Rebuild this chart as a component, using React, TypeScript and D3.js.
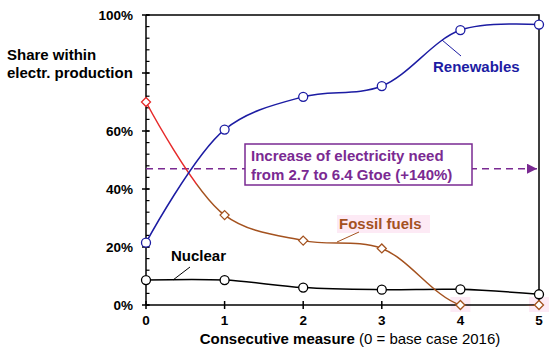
import React, { useEffect, useRef } from 'react'
import * as d3 from 'd3'

const measures = [0, 1, 2, 3, 4, 5]
const renewables = [21.5, 60.5, 71.8, 75.5, 94.8, 96.7]
const fossil = [70, 31, 22.2, 19.5, 0, 0]
const nuclear = [8.6, 8.6, 6, 5.3, 5.4, 3.7]
const yTicks = [0, 20, 40, 60, 80, 100]
const yLabels = ['0%', '20%', '40%', '60%', '', '100%'] // 80% hidden behind the axis title
const needLevel = 47

const W = 550
const H = 355
const m = { left: 146, right: 11, top: 15, bottom: 50 }

const App = () => {
  const ref = useRef<SVGSVGElement>(null)

  useEffect(() => {
    const svg = d3.select(ref.current)
    svg.selectAll('*').remove()

    const x = d3.scaleLinear().domain([0, 5]).range([m.left, W - m.right])
    const y = d3.scaleLinear().domain([0, 100]).range([H - m.bottom, m.top])
    const font = 'Liberation Sans, Arial, sans-serif'

    const blue = '#1c1ca3'
    const red = '#e62a2a'
    const brown = '#a4521f'
    const purple = '#7a2a92'

    const defs = svg.append('defs')
    const grad = defs.append('linearGradient')
      .attr('id', 'fossilGrad')
      .attr('gradientUnits', 'userSpaceOnUse')
      .attr('x1', x(0)).attr('x2', x(5)).attr('y1', 0).attr('y2', 0)
    grad.append('stop').attr('offset', '13%').attr('stop-color', red)
    grad.append('stop').attr('offset', '13%').attr('stop-color', brown)

    defs.append('clipPath').attr('id', 'plotClip')
      .append('rect').attr('x', 0).attr('y', 0).attr('width', W).attr('height', y(0) + 0.8)

    defs.append('marker')
      .attr('id', 'arrow')
      .attr('viewBox', '0 0 10 10')
      .attr('refX', 10).attr('refY', 5)
      .attr('markerWidth', 10).attr('markerHeight', 10)
      .attr('markerUnits', 'userSpaceOnUse')
      .attr('orient', 'auto')
      .append('path').attr('d', 'M0,0 L10,5 L0,10 z').attr('fill', purple)

    // pink label backgrounds
    svg.append('rect').attr('x', 337).attr('y', 215).attr('width', 93).attr('height', 18).attr('fill', '#fdeaf5')
    ;[4, 5].forEach(i => {
      svg.append('rect').attr('x', x(i) - 10).attr('y', y(0) - 8).attr('width', 20).attr('height', 15).attr('fill', '#fdeaf5')
    })

    // frame
    svg.append('path')
      .attr('d', `M${x(0)},${y(100)} H${x(5)} V${y(0)}`)
      .attr('fill', 'none').attr('stroke', '#000').attr('stroke-width', 1.5)

    // y axis
    svg.append('line').attr('x1', x(0)).attr('x2', x(0)).attr('y1', y(0)).attr('y2', y(100))
      .attr('stroke', '#000').attr('stroke-width', 1.5)
    d3.range(0, 101, 4).forEach(v => {
      svg.append('line').attr('x1', x(0)).attr('x2', x(0) + 3.5).attr('y1', y(v)).attr('y2', y(v))
        .attr('stroke', '#000').attr('stroke-width', 1.2)
    })
    yTicks.forEach((v, i) => {
      svg.append('line').attr('x1', x(0) - 4).attr('x2', x(0) + 3.5).attr('y1', y(v)).attr('y2', y(v))
        .attr('stroke', '#000').attr('stroke-width', 1.5)
      svg.append('text').attr('x', 133).attr('y', y(v) + 5).attr('text-anchor', 'end')
        .attr('font-family', font).attr('font-weight', 'bold').attr('font-size', 13.5)
        .text(yLabels[i])
    })

    // x axis
    svg.append('line').attr('x1', x(0)).attr('x2', x(5)).attr('y1', y(0)).attr('y2', y(0))
      .attr('stroke', '#000').attr('stroke-width', 1.5)
    measures.forEach(v => {
      svg.append('line').attr('x1', x(v)).attr('x2', x(v)).attr('y1', y(0) - 4).attr('y2', y(0) + 4)
        .attr('stroke', '#000').attr('stroke-width', 1.5)
      svg.append('text').attr('x', x(v)).attr('y', 325).attr('text-anchor', 'middle')
        .attr('font-family', font).attr('font-weight', 'bold').attr('font-size', 13.5)
        .text(v)
    })

    // axis titles
    const yt = svg.append('text').attr('font-family', font).attr('font-weight', 'bold').attr('font-size', 15)
    yt.append('tspan').attr('x', 7).attr('y', 60).text('Share within')
    yt.append('tspan').attr('x', 7).attr('y', 78).text('electr. production')

    const xt = svg.append('text').attr('x', 350).attr('y', 344).attr('text-anchor', 'middle')
      .attr('font-family', font).attr('font-size', 15)
    xt.append('tspan').attr('font-weight', 'bold').text('Consecutive measure')
    xt.append('tspan').text(' (0 = base case 2016)')

    // dashed need arrow
    svg.append('line').attr('x1', x(0)).attr('x2', x(5) - 2).attr('y1', y(needLevel)).attr('y2', y(needLevel))
      .attr('stroke', purple).attr('stroke-width', 1.5).attr('stroke-dasharray', '7,5')
      .attr('marker-end', 'url(#arrow)')

    // series
    const line = d3.line<number>()
      .x((d, i) => x(measures[i]))
      .y(d => y(d))
      .curve(d3.curveCatmullRom)

    svg.append('path').datum(nuclear).attr('d', line).attr('fill', 'none').attr('stroke', '#000').attr('stroke-width', 1.5)
    svg.append('path').datum(fossil).attr('d', line).attr('fill', 'none').attr('stroke', 'url(#fossilGrad)').attr('stroke-width', 1.5)
      .attr('clip-path', 'url(#plotClip)')
    svg.append('path').datum(renewables).attr('d', line).attr('fill', 'none').attr('stroke', blue).attr('stroke-width', 1.5)

    // annotation box
    svg.append('rect').attr('x', 245).attr('y', 144).attr('width', 227).attr('height', 41)
      .attr('fill', '#fff').attr('stroke', purple).attr('stroke-width', 1.5)
    const bt = svg.append('text').attr('font-family', font).attr('font-weight', 'bold').attr('font-size', 15).attr('fill', purple)
    bt.append('tspan').attr('x', 251).attr('y', 161).text('Increase of electricity need')
    bt.append('tspan').attr('x', 251).attr('y', 180).text('from 2.7 to 6.4 Gtoe (+140%)')

    // markers
    svg.selectAll('.nuc').data(nuclear).enter().append('circle')
      .attr('cx', (d, i) => x(measures[i])).attr('cy', d => y(d)).attr('r', 4.5)
      .attr('fill', '#fff').attr('stroke', '#000').attr('stroke-width', 1.3)
    svg.selectAll('.ren').data(renewables).enter().append('circle')
      .attr('cx', (d, i) => x(measures[i])).attr('cy', d => y(d)).attr('r', 4.5)
      .attr('fill', '#fff').attr('stroke', blue).attr('stroke-width', 1.3)
    svg.selectAll('.fos').data(fossil).enter().append('path')
      .attr('d', (d, i) => {
        const cx = x(measures[i]), cy = y(d), s = 4.5
        return `M${cx},${cy - s} L${cx + s},${cy} L${cx},${cy + s} L${cx - s},${cy} Z`
      })
      .attr('fill', '#fff').attr('stroke', (d, i) => i === 0 ? red : brown).attr('stroke-width', 1.3)

    // series labels with leaders
    svg.append('line').attr('x1', 442).attr('y1', 40).attr('x2', 461).attr('y2', 56).attr('stroke', blue).attr('stroke-width', 1)
    svg.append('text').attr('x', 433).attr('y', 72).attr('font-family', font).attr('font-weight', 'bold')
      .attr('font-size', 15).attr('fill', blue).text('Renewables')

    svg.append('line').attr('x1', 359).attr('y1', 232).attr('x2', 337).attr('y2', 242).attr('stroke', brown).attr('stroke-width', 1)
    svg.append('text').attr('x', 339).attr('y', 229).attr('font-family', font).attr('font-weight', 'bold')
      .attr('font-size', 15).attr('fill', brown).text('Fossil fuels')

    svg.append('line').attr('x1', 190).attr('y1', 267).attr('x2', 173).attr('y2', 280).attr('stroke', '#000').attr('stroke-width', 1)
    svg.append('text').attr('x', 171).attr('y', 261).attr('font-family', font).attr('font-weight', 'bold')
      .attr('font-size', 15).attr('fill', '#000').text('Nuclear')
  }, [])

  return (
    <svg ref={ref} width={W} height={H} style={{ position: 'absolute', left: 0, top: 0, background: '#fff' }} />
  )
}

export default App
